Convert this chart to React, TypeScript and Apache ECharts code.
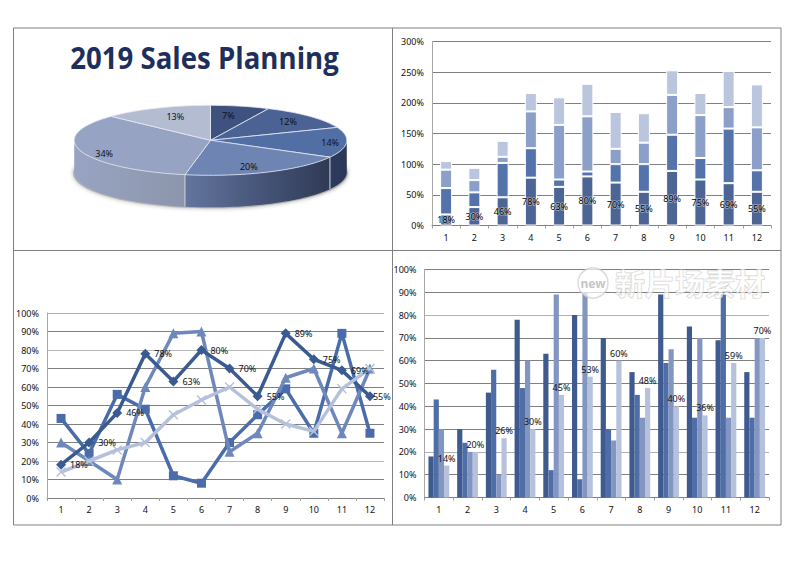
import React, { useEffect, useRef } from "react";
import * as echarts from "echarts";

const months = ["1", "2", "3", "4", "5", "6", "7", "8", "9", "10", "11", "12"];
const seriesA = [18, 30, 46, 78, 63, 80, 70, 55, 89, 75, 69, 55];
const seriesB = [43, 24, 56, 48, 12, 8, 30, 45, 59, 35, 89, 35];
const seriesC = [30, 20, 10, 60, 89, 90, 25, 35, 65, 70, 35, 70];
const seriesD = [14, 20, 26, 30, 45, 53, 60, 48, 40, 36, 59, 70];
const pieValues = [7, 12, 14, 20, 34, 13];
const chartTitle = "2019 Sales Planning";
const watermarkMark = "new";
const watermarkText = "新片场素材";

const FONT = "'Noto Sans', sans-serif";
const pct = (v: number) => `${v}%`;

// pie projection
const CX = 210.5, CY = 140.3, RX = 136.3, RY = 35, DEPTH = 32;
const pieTop = ["#3f527f", "#4a6394", "#516fa5", "#6e85b4", "#96a3c3", "#b4bcd2"];
const pieWall: string[][] = [
  ["#3f527f", "#3f527f"], ["#4a6394", "#4a6394"],
  ["#2c3a5e", "#2b3857"],
  ["#64759e", "#47567a", "#2f3a55"],
  ["#98a4c2", "#8c95ab"],
  ["#b4bcd2", "#b4bcd2"],
];
const labelReach = [[0.6, 0.73], [0.78, 0.79], [0.88, 0.9], [0.66, 0.82], [0.82, 1.2], [0.65, 0.75]];
const total = pieValues.reduce((a, b) => a + b, 0);
const pt = (deg: number, dy = 0, kx = 1, ky = 1): [number, number] => {
  const r = (deg * Math.PI) / 180;
  return [CX + RX * kx * Math.sin(r), CY - RY * ky * Math.cos(r) + dy];
};
const arc = (a: number, b: number, dy = 0) => {
  const out: [number, number][] = [];
  const n = Math.max(2, Math.ceil(Math.abs(b - a) / 2));
  for (let i = 0; i <= n; i++) out.push(pt(a + ((b - a) * i) / n, dy));
  return out;
};
const sliceAngles = (i: number) => {
  const before = pieValues.slice(0, i).reduce((a, b) => a + b, 0);
  return [(before / total) * 360, ((before + pieValues[i]) / total) * 360];
};

const renderWall = (params: any) => {
  const i = params.dataIndex;
  const [a0, a1] = sliceAngles(i);
  const a = Math.max(a0, 90), b = Math.min(a1, 270);
  if (b <= a) return { type: "group", children: [] };
  const stops = pieWall[i];
  const fill = new echarts.graphic.LinearGradient(0, 0, 1, 0,
    stops.map((color, k) => ({ offset: k / (stops.length - 1), color })));
  return {
    type: "group",
    children: [
      { type: "polygon", shape: { points: [...arc(a, b), ...arc(b, a, DEPTH)] }, style: { fill } },
      ...(a0 >= 90 ? [{
        type: "line",
        shape: { x1: pt(a0)[0], y1: pt(a0)[1], x2: pt(a0)[0], y2: pt(a0, DEPTH)[1] },
        style: { stroke: "#cfd4e0", lineWidth: 1 },
      }] : []),
    ],
  };
};

const renderTop = (params: any, api: any) => {
  const i = params.dataIndex;
  const [a0, a1] = sliceAngles(i);
  const mid = (a0 + a1) / 2;
  const [kx, ky] = labelReach[i];
  const [lx, ly] = pt(mid, 0, kx, ky);
  return {
    type: "group",
    children: [
      {
        type: "polygon",
        shape: { points: [[CX, CY], ...arc(a0, a1)] },
        style: { fill: pieTop[i], stroke: "#e4e8f2", lineWidth: 0.8 },
      },
      {
        type: "text",
        z2: 10,
        style: {
          text: pct(api.value(0)), x: lx, y: ly, align: "center", verticalAlign: "middle",
          font: `9px ${FONT}`, fill: "#111",
        },
      },
    ],
  };
};

const grids = [
  { left: 432, top: 41.5, width: 339, height: 184 },
  { left: 47, top: 313, width: 337, height: 185 },
  { left: 424.5, top: 269.5, width: 344.5, height: 228 },
];

const xAxisBase = (gridIndex: number) => ({
  type: "category" as const,
  gridIndex,
  data: months,
  axisLine: { lineStyle: { color: "#808080", width: 1 } },
  axisTick: { show: true, length: 3, lineStyle: { color: "#a0a0a0" } },
  axisLabel: { color: "#111", fontSize: 9, fontFamily: FONT, margin: 7 },
});
const yAxisBase = (gridIndex: number, max: number, interval: number, lines: string[]) => ({
  type: "value" as const,
  gridIndex,
  min: 0,
  max,
  interval,
  axisLine: { show: true, lineStyle: { color: "#a8a8a8", width: 1 } },
  axisTick: { show: false },
  axisLabel: { color: "#111", fontSize: 9, fontFamily: FONT, margin: 8, formatter: (v: number) => `${v}%` },
  splitLine: { show: true, lineStyle: { color: lines, width: 1 } },
});

const stackColors = ["#4c6594", "#5473aa", "#8c9fc8", "#bac5de"];
const stackSeries = [seriesA, seriesB, seriesC, seriesD].map((data, k) => ({
  type: "bar" as const,
  xAxisIndex: 0,
  yAxisIndex: 0,
  stack: "total",
  data,
  barWidth: 12,
  z: k === 0 ? 3 : 2,
  itemStyle: { color: stackColors[k], borderColor: "#ffffff", borderWidth: 1 },
  label: k === 0
    ? {
        show: true, position: "inside", color: "#000", fontSize: 9, fontFamily: FONT,
        textBorderColor: "rgba(255,255,255,0.45)", textBorderWidth: 1.5,
        formatter: (p: any) => pct(p.value),
      }
    : { show: false },
}));

const crossSymbol = "path://M1,0 L5,4 L9,0 L10,1 L6,5 L10,9 L9,10 L5,6 L1,10 L0,9 L4,5 L0,1 Z";
const lineStyles = [
  { color: "#3a5a92", symbol: "diamond", symbolSize: 10 },
  { color: "#4a6cab", symbol: "rect", symbolSize: 9 },
  { color: "#6f88bc", symbol: "triangle", symbolSize: 10 },
  { color: "#b5c0dc", symbol: crossSymbol, symbolSize: 10 },
];
const lineSeries = [seriesB, seriesC, seriesA, seriesD].map((data, idx) => {
  const k = [1, 2, 0, 3][idx];
  const s = lineStyles[k];
  return {
    type: "line" as const,
    xAxisIndex: 1,
    yAxisIndex: 1,
    data,
    symbol: s.symbol,
    symbolSize: s.symbolSize,
    showSymbol: true,
    lineStyle: { color: s.color, width: 3.5 },
    itemStyle: { color: s.color },
    label: { show: false },
    z: 3 + idx,
  };
});
// carries the labels of the first series above every line
const lineLabelSeries = {
  type: "line" as const,
  xAxisIndex: 1,
  yAxisIndex: 1,
  data: seriesA.map((value, i) =>
    i === seriesA.length - 1 ? { value, label: { distance: -2 } } : value),
  symbol: "circle",
  symbolSize: 10,
  showSymbol: true,
  lineStyle: { color: "transparent", width: 0 },
  itemStyle: { color: "transparent" },
  label: {
    show: true, position: "right", distance: 4, color: "#111", fontSize: 9, fontFamily: FONT,
    formatter: (p: any) => pct(p.value),
  },
  z: 10,
};

const groupColors = ["#3e5a8e", "#4f6ea8", "#8396c2", "#b6c1dc"];
const groupSeries = [seriesA, seriesB, seriesC, seriesD].map((data, k) => ({
  type: "bar" as const,
  xAxisIndex: 2,
  yAxisIndex: 2,
  data,
  barWidth: 5.2,
  barGap: "0%",
  itemStyle: { color: groupColors[k] },
  label: k === 3
    ? { show: true, position: "top", distance: 3, color: "#111", fontSize: 9, fontFamily: FONT, formatter: (p: any) => pct(p.value) }
    : { show: false },
}));

const frame = [
  { x1: 13.5, y1: 28, x2: 781, y2: 28 },
  { x1: 13.5, y1: 28, x2: 13.5, y2: 525 },
  { x1: 13.5, y1: 525, x2: 781, y2: 525 },
  { x1: 781, y1: 28, x2: 781, y2: 525 },
  { x1: 392.5, y1: 28, x2: 392.5, y2: 525 },
  { x1: 13.5, y1: 250.5, x2: 781, y2: 250.5 },
];

export default function App() {
  const ref = useRef<HTMLDivElement>(null);
  useEffect(() => {
    const chart = echarts.init(ref.current!, null, { renderer: "svg" });
    chart.setOption({
      animation: false,
      backgroundColor: "#ffffff",
      grid: grids,
      xAxis: [xAxisBase(0), xAxisBase(1), xAxisBase(2)],
      yAxis: [
        yAxisBase(0, 300, 50, ["#808080"]),
        yAxisBase(1, 100, 10, ["#aeaeae", "#808080", "#b8b8b8", "#808080", "#808080", "#808080", "#808080", "#808080", "#b8b8b8", "#808080", "#808080"].reverse()),
        yAxisBase(2, 100, 10, ["#808080", "#808080", "#b0b0b0", "#808080", "#808080", "#808080", "#808080", "#808080", "#b0b0b0", "#808080", "#808080"]),
      ],
      graphic: {
        elements: [
          ...frame.map((shape) => ({ type: "line", shape, style: { stroke: "#808080", lineWidth: 1 }, silent: true })),
          {
            type: "ellipse",
            shape: { cx: CX, cy: CY + DEPTH + 1, rx: RX + 1, ry: RY },
            style: { fill: "#b0b0b0", shadowBlur: 4, shadowColor: "#aaaaaa" },
            silent: true,
          },
          {
            type: "text",
            x: 204.5,
            y: 57,
            scaleX: 0.92,
            style: {
              text: chartTitle, align: "center", verticalAlign: "middle",
              font: `bold 30px 'Open Sans', sans-serif`, fill: "#1f2f5c",
            },
          },
          {
            type: "circle",
            z: 100,
            shape: { cx: 593, cy: 283, r: 15 },
            style: { fill: "rgba(255,255,255,0.7)", stroke: "rgba(205,205,205,0.7)", lineWidth: 1.5 },
            silent: true,
          },
          {
            type: "text",
            z: 101,
            x: 593,
            y: 283,
            style: {
              text: watermarkMark, align: "center", verticalAlign: "middle",
              font: `bold 12px ${FONT}`, fill: "rgba(190,190,190,0.9)",
            },
          },
          {
            type: "text",
            z: 101,
            x: 690,
            y: 282,
            style: {
              text: watermarkText, align: "center", verticalAlign: "middle",
              font: `bold 30px 'Noto Sans CJK SC', sans-serif`,
              fill: "rgba(255,255,255,0.6)", stroke: "rgba(195,195,195,0.75)", lineWidth: 1,
            },
          },
        ],
      },
      series: [
        { type: "custom", coordinateSystem: "none", data: pieValues, renderItem: renderWall, z: 3, silent: true },
        { type: "custom", coordinateSystem: "none", data: pieValues, renderItem: renderTop, z: 4, silent: true },
        ...stackSeries,
        ...lineSeries,
        lineLabelSeries,
        ...groupSeries,
      ],
    });
    return () => chart.dispose();
  }, []);
  return <div ref={ref} style={{ position: "fixed", left: 0, top: 0, width: 800, height: 566 }} />;
}
